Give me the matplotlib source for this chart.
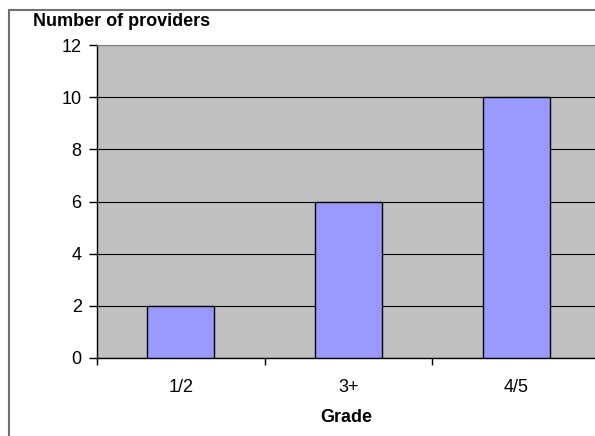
import numpy as np
import matplotlib.pyplot as plt
from matplotlib.patches import Rectangle

grades = ["1/2", "3+", "4/5"]
providers = [2, 6, 10]
y_ticks = [0, 2, 4, 6, 8, 10, 12]

plt.rcParams['font.family'] = ['Liberation Sans', 'DejaVu Sans']

W, H = 595, 436
fig = plt.figure(figsize=(W / 100, H / 100), dpi=100)

# plot area in pixels (runs off the right edge like the original)
left, top, right, bottom = 97, 45, 600, 358
ax = fig.add_axes([left / W, 1 - bottom / H, (right - left) / W, (bottom - top) / H])
ax.set_facecolor('#C0C0C0')

x = np.arange(len(grades))
ax.bar(x, providers, width=0.4, color='#9999FF', edgecolor='black', linewidth=1, zorder=3)

ax.set_xlim(-0.5, len(grades) - 0.5)
ax.set_ylim(0, 12)
ax.set_yticks(y_ticks)
ax.yaxis.grid(True, color='black', linewidth=0.8, zorder=1)
ax.set_axisbelow(True)

# ticks between categories, labels centred on categories
ax.set_xticks(np.arange(len(grades) + 1) - 0.5)
ax.set_xticklabels([])
ax.set_xticks(x, minor=True)
ax.set_xticklabels(grades, minor=True)
ax.tick_params(axis='x', which='minor', length=0, pad=15, labelsize=13)
ax.tick_params(axis='x', which='major', length=5, width=1, direction='out')
ax.tick_params(axis='y', length=6, width=1, direction='out', pad=5, labelsize=13)

for s in ['top', 'right']:
    ax.spines[s].set_color('#808080')
for s in ['left', 'bottom']:
    ax.spines[s].set_color('black')
    ax.spines[s].set_linewidth(1)

fig.text(33 / W, 1 - 22 / H, "Number of providers", fontsize=13, fontweight='bold',
         ha='left', va='center')
fig.text(346 / W, 1 - 417 / H, "Grade", fontsize=13, fontweight='bold',
         ha='center', va='center')

# outer chart border
fig.patches.append(Rectangle((9 / W, -0.1), 1.0, 1 - 10 / H + 0.1,
                             transform=fig.transFigure, fill=False,
                             edgecolor='#707070', linewidth=1.5))

fig.savefig('out.png', dpi=100)
